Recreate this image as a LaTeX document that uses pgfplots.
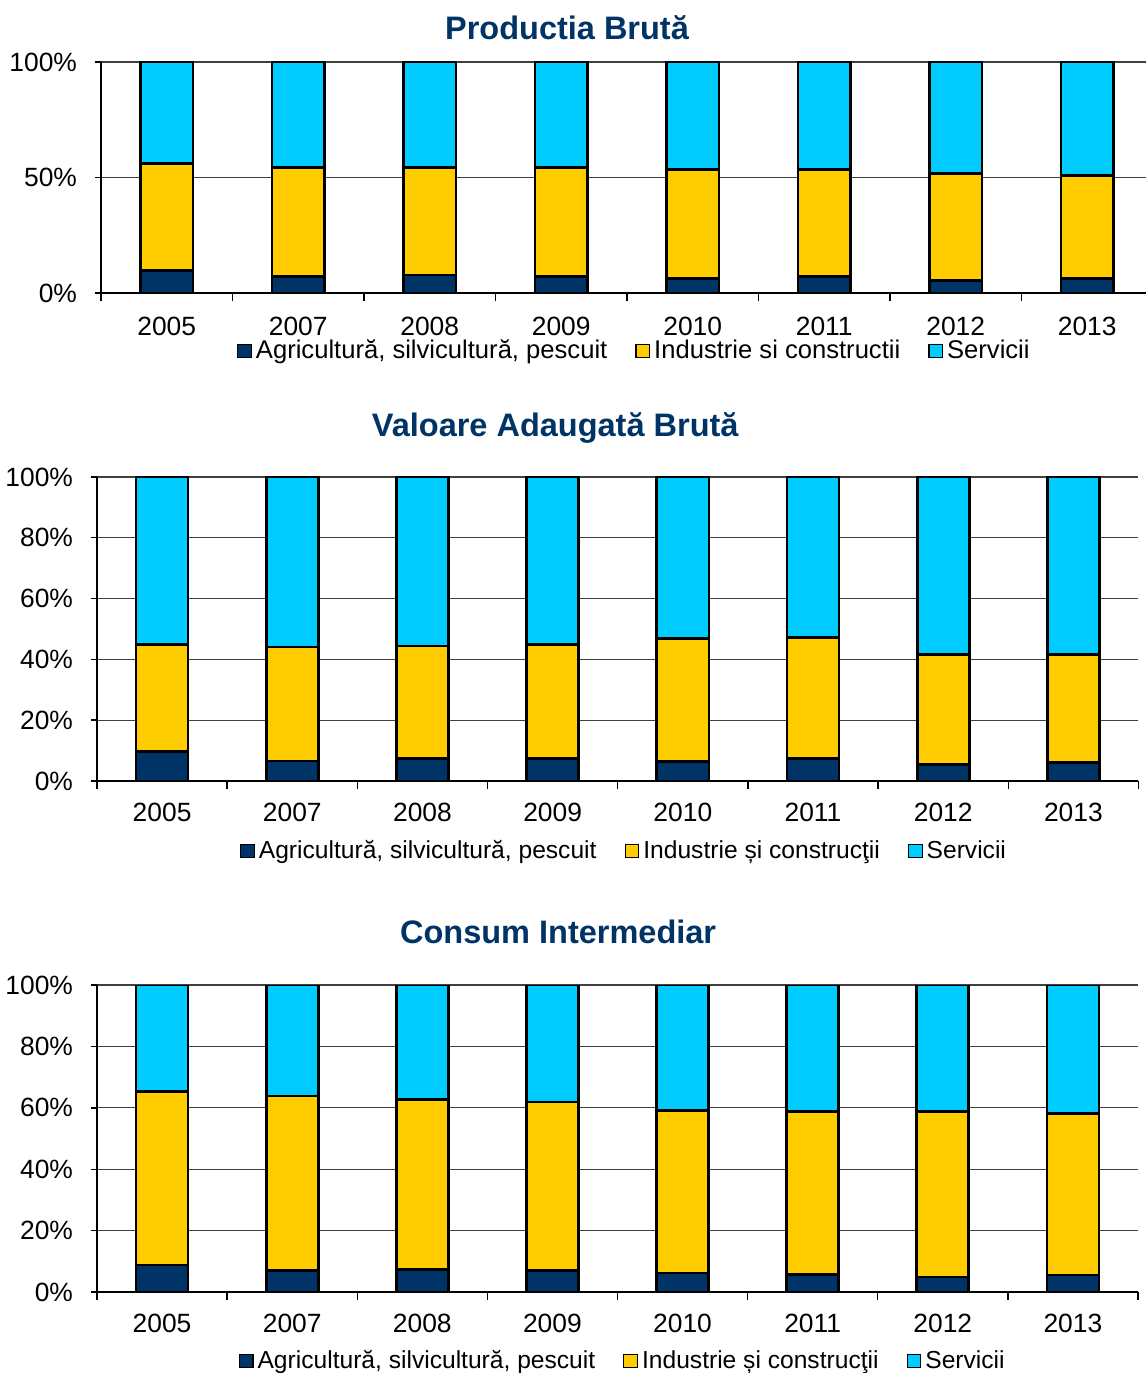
\documentclass[border=0pt]{standalone}
\usepackage{fontspec}
\setmainfont{Liberation Sans}
\usepackage{pgfplots}
\pgfplotsset{compat=1.18}
\definecolor{agri}{RGB}{0,51,102}
\definecolor{ind}{RGB}{255,204,0}
\definecolor{serv}{RGB}{0,204,255}
\definecolor{ttl}{RGB}{0,51,102}
\pgfplotsset{
 mystyle/.style={
  scale only axis,
  ybar stacked,
  bar width=0.4,
  xmin=-0.5, xmax=7.5,
  ymin=0, ymax=100,
  axis x line=bottom, axis y line=left,
  axis line style={-, black, line width=0.7pt},
  xtick={0,...,7},
  xticklabels={2005,2007,2008,2009,2010,2011,2012,2013},
  major x tick style={draw=none},
  minor xtick={-0.5,0.5,...,7.5},
  minor x tick style={black, line width=0.7pt},
  minor tick length=4pt,
  major tick length=3pt,
  tick align=outside,
  ytick style={black, line width=0.7pt},
  ymajorgrids,
  grid style={black!75, line width=0.55pt},
  tick label style={font=\fontsize{13.2}{15}\selectfont},
  xticklabel style={yshift=-4.7pt},
  yticklabel style={xshift=-5.5pt},
  legend columns=3,
  legend image code/.code={\draw[#1, draw=black, line width=0.6pt] (0pt,-3.4pt) rectangle (6.8pt,3.4pt);},
  legend style={draw=none, fill=none, font=\fontsize{12.3}{14}\selectfont, anchor=center,
    /tikz/every even column/.append style={column sep=12pt}},
  title style={font=\fontsize{16.25}{18}\selectfont\bfseries, text=ttl, anchor=center},
 },
 agri/.style={fill=agri, draw=black, line width=1.35pt},
 ind/.style={fill=ind, draw=black, line width=1.35pt},
 serv/.style={fill=serv, draw=black, line width=1.35pt},
}
\begin{document}
\begin{tikzpicture}
\useasboundingbox (0pt,0pt) rectangle (573pt,686.5pt);
% Panel 1
\begin{axis}[mystyle, at={(50.5pt,540pt)}, anchor=south west, width=526pt, height=115.5pt,
  ytick={0,50,100}, yticklabels={0\%,50\%,100\%},
  title={Productia Brută}, title style={at={(0.443,1.095)}},
  legend style={at={(0.508,-0.251)}, font=\fontsize{12.8}{14}\selectfont},
  xticklabel style={yshift=-1pt},
  every axis plot/.append style={line width=1pt}]
\addplot[agri] coordinates {(0,9.6) (1,7.1) (2,7.8) (3,7.1) (4,6.2) (5,7.1) (6,5.4) (7,6.2)};
\addplot[ind] coordinates {(0,46.4) (1,47.2) (2,46.5) (3,47.2) (4,47.2) (5,46.3) (6,46.3) (7,44.6)};
\addplot[serv] coordinates {(0,44.0) (1,45.7) (2,45.7) (3,45.7) (4,46.6) (5,46.6) (6,48.3) (7,49.2)};
\legend{{Agricultură, silvicultură, pescuit}, {Industrie si constructii}, {Servicii}}
\end{axis}
% Panel 2
\begin{axis}[mystyle, at={(48.5pt,296pt)}, anchor=south west, width=520.75pt, height=152pt,
  ytick={0,20,40,60,80,100}, yticklabels={0\%,20\%,40\%,60\%,80\%,100\%},
  title={Valoare Adaugată Brută}, title style={at={(0.44,1.122)}},
  legend style={at={(0.507,-0.230)}}]
\addplot[agri] coordinates {(0,9.7) (1,6.6) (2,7.5) (3,7.3) (4,6.4) (5,7.4) (6,5.4) (7,6.2)};
\addplot[ind] coordinates {(0,35.2) (1,37.5) (2,36.9) (3,37.6) (4,40.5) (5,39.8) (6,36.2) (7,35.3)};
\addplot[serv] coordinates {(0,55.1) (1,55.9) (2,55.6) (3,55.1) (4,53.1) (5,52.8) (6,58.4) (7,58.5)};
\legend{{Agricultură, silvicultură, pescuit}, {Industrie și construcţii}, {Servicii}}
\end{axis}
% Panel 3
\begin{axis}[mystyle, at={(48.5pt,40.5pt)}, anchor=south west, width=520.5pt, height=153.5pt,
  ytick={0,20,40,60,80,100}, yticklabels={0\%,20\%,40\%,60\%,80\%,100\%},
  title={Consum Intermediar}, title style={at={(0.443,1.134)}},
  legend style={at={(0.506,-0.225)}}]
\addplot[agri] coordinates {(0,8.8) (1,7.1) (2,7.4) (3,6.9) (4,6.2) (5,5.8) (6,4.9) (7,5.5)};
\addplot[ind] coordinates {(0,56.6) (1,56.7) (2,55.3) (3,55.0) (4,53.0) (5,53.0) (6,53.9) (7,52.7)};
\addplot[serv] coordinates {(0,34.6) (1,36.2) (2,37.3) (3,38.1) (4,40.8) (5,41.2) (6,41.2) (7,41.8)};
\legend{{Agricultură, silvicultură, pescuit}, {Industrie și construcţii}, {Servicii}}
\end{axis}
\end{tikzpicture}
\end{document}
